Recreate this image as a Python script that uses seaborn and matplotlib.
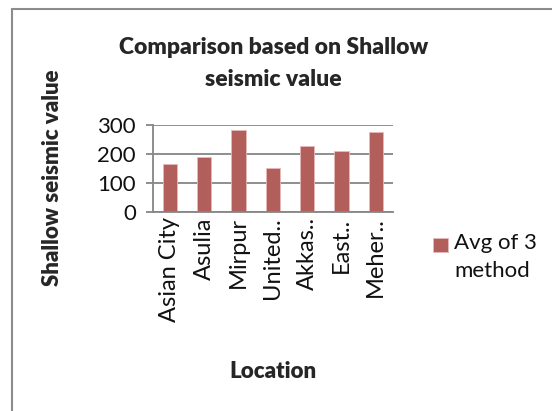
import matplotlib
matplotlib.use("Agg")
import matplotlib.pyplot as plt
import seaborn as sns
import pandas as pd
from matplotlib.patches import Rectangle
from matplotlib.legend_handler import HandlerPatch

locations = ["Asian City", "Asulia", "Mirpur", "United..", "Akkas..", "East..", "Meher.."]
avg_values = [165, 188, 283, 151, 228, 209, 276]
series_name = "Avg of 3 method"
y_ticks = [0, 100, 200, 300]

sns.set_theme(style="white")
plt.rcParams["font.family"] = ["Lato", "DejaVu Sans"]

df = pd.DataFrame({"Location": locations, "Value": avg_values, "Series": series_name})

fig = plt.figure(figsize=(5.52, 4.11), dpi=100)
ax = fig.add_axes([0.2766, 0.4849, 0.4353, 0.211])

sns.barplot(data=df, x="Location", y="Value", hue="Series", palette=["#C0504D"],
            width=0.41, ax=ax, legend=True, edgecolor="#E6B9B8", linewidth=0.6)

ax.set_ylim(0, 300)
ax.set_yticks(y_ticks)
ax.set_xlim(-0.5, len(locations) - 0.5)
ax.yaxis.grid(True, color="#868686", linewidth=1.3)
ax.set_axisbelow(True)
for side in ["top", "right"]:
    ax.spines[side].set_visible(False)
for side in ["left", "bottom"]:
    ax.spines[side].set_color("#868686")
    ax.spines[side].set_linewidth(1.3)
ax.tick_params(axis="y", direction="out", length=5, width=1.3, color="#868686",
               labelsize=16, pad=7, left=True, labelcolor="#111111")
ax.tick_params(axis="x", length=0, labelsize=17, pad=4, labelcolor="#111111")
plt.setp(ax.get_xticklabels(), rotation=90)

ax.set_xlabel("Location", fontsize=16, fontweight="heavy")
ax.set_ylabel("Shallow seismic value", fontsize=16, fontweight="heavy")
ax.xaxis.set_label_coords(0.5, -1.72)
ax.yaxis.set_label_coords(-0.375, 0.39)

fig.text(0.495, 0.8455, "Comparison based on Shallow\nseismic value", ha="center", va="center",
         fontsize=16.5, fontweight="heavy", linespacing=1.6)


def top_square(legend, orig_handle, xdescent, ydescent, width, height, fontsize):
    # square marker aligned with the first line of a two-line label
    side = width
    return Rectangle((-xdescent, -ydescent + height - side), side, side)


handles, _ = ax.get_legend_handles_labels()
leg = ax.legend(handles, ["Avg of 3\nmethod"], loc="upper left", bbox_to_anchor=(1.168, -0.24),
                frameon=False, fontsize=16, handlelength=0.65, handleheight=2.35,
                handletextpad=0.3, borderaxespad=0, borderpad=0,
                handler_map={type(handles[0]): HandlerPatch(patch_func=top_square)})
for t in leg.get_texts():
    t.set_linespacing(1.5)
    t.set_color("#111111")

# outer chart frame, only top and left edges fall inside the image
fig.add_artist(plt.Line2D([0.021, 0.021], [0, 0.979], color="#8C8C8C", linewidth=1.5,
                          transform=fig.transFigure))
fig.add_artist(plt.Line2D([0.021, 1.0], [0.979, 0.979], color="#8C8C8C", linewidth=1.5,
                          transform=fig.transFigure))

fig.savefig("out.png", dpi=100, facecolor="white")
